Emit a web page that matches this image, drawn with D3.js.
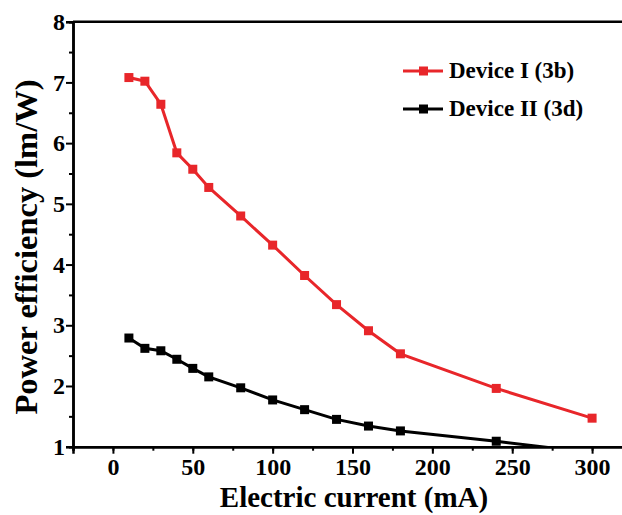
<!DOCTYPE html>
<html>
<head>
<meta charset="utf-8">
<script src="https://d3js.org/d3.v7.min.js"></script>
<style>
  body { margin: 0; background: #fff; }
  svg text { font-family: "Liberation Serif", Tinos, "Times New Roman", Times, "DejaVu Serif", "Noto Serif", serif !important; font-weight: bold; }
  svg .tick text { font-size: 24px; }
</style>
</head>
<body>
<div id="chart"></div>
<script>
// Data
// ==============================
var currentI = [10, 20, 30, 40, 50, 60, 80, 100, 120, 140, 160, 180, 240, 300];
var efficiencyI = [7.08, 7.02, 6.64, 5.84, 5.57, 5.27, 4.80, 4.32, 3.82, 3.34, 2.91, 2.53, 1.96, 1.47];

var currentII = [10, 20, 30, 40, 50, 60, 80, 100, 120, 140, 160, 180, 240, 300];
var efficiencyII = [2.79, 2.62, 2.58, 2.44, 2.29, 2.15, 1.97, 1.77, 1.61, 1.45, 1.34, 1.26, 1.09, 0.90];

var seriesNames = ["Device I (3b)", "Device II (3d)"];
var seriesColors = ["#e8262a", "#000000"];

var xTicks = [0, 50, 100, 150, 200, 250, 300];
var yTicks = [1, 2, 3, 4, 5, 6, 7, 8];

var svgWidth = 622;
var svgHeight = 515;

var margin = { top: 21.7, left: 73, bottom: 68.3 };
var height = svgHeight - margin.top - margin.bottom;
var width = 567;   // plot runs past the right edge of the picture

var svg = d3.select("#chart")
    .append("svg")
    .attr("width", svgWidth)
    .attr("height", svgHeight);

var chartGroup = svg.append("g")
    .attr("transform", `translate(${margin.left}, ${margin.top})`);

// Scales
// ==============================
var xScale = d3.scaleLinear()
    .domain([-25, 330])
    .range([0, width]);

var yScale = d3.scaleLinear()
    .domain([1, 8])
    .range([height, 0]);

// Clip for the lines
chartGroup.append("clipPath")
    .attr("id", "plotClip")
    .append("rect")
    .attr("width", width)
    .attr("height", height);

// Axes
// ==============================
var bottomMinor = d3.axisBottom(xScale)
    .tickValues(d3.range(-25, 330, 25))
    .tickSize(4)
    .tickFormat("");
var bottomAxis = d3.axisBottom(xScale)
    .tickValues(xTicks)
    .tickSize(7)
    .tickPadding(4)
    .tickFormat(d3.format("d"));

var leftMinor = d3.axisLeft(yScale)
    .tickValues(d3.range(1.5, 8, 1))
    .tickSize(4)
    .tickFormat("");
var leftAxis = d3.axisLeft(yScale)
    .tickValues(yTicks)
    .tickSize(7)
    .tickPadding(1)
    .tickFormat(d3.format("d"));

chartGroup.append("g").attr("transform", `translate(0, ${height})`).call(bottomMinor);
chartGroup.append("g").attr("transform", `translate(0, ${height})`).call(bottomAxis);
chartGroup.append("g").call(leftMinor);
chartGroup.append("g").call(leftAxis);

// top frame line
chartGroup.append("line")
    .attr("x1", 0).attr("x2", width)
    .attr("y1", 0).attr("y2", 0)
    .attr("stroke", "#000")
    .attr("stroke-width", 2.5);

chartGroup.selectAll(".domain")
    .attr("stroke-width", 2.5);
chartGroup.selectAll(".tick line")
    .attr("stroke-width", 2);

// Series
// ==============================
var series = [
    currentI.map((c, i) => ({ x: c, y: efficiencyI[i] })),
    currentII.map((c, i) => ({ x: c, y: efficiencyII[i] }))
];

var line = d3.line()
    .x(d => xScale(d.x))
    .y(d => yScale(d.y));

series.forEach(function(data, k) {
    var g = chartGroup.append("g").attr("clip-path", "url(#plotClip)");
    g.append("path")
        .datum(data)
        .attr("fill", "none")
        .attr("stroke", seriesColors[k])
        .attr("stroke-width", 3)
        .attr("d", line);
    g.selectAll("rect")
        .data(data)
        .enter()
        .append("rect")
        .attr("x", d => xScale(d.x) - 4.5)
        .attr("y", d => yScale(d.y) - 4.5)
        .attr("width", 9)
        .attr("height", 9)
        .attr("fill", seriesColors[k]);
});

// Legend
// ==============================
var legend = svg.append("g")
    .attr("transform", "translate(403, 71)");

seriesNames.forEach(function(name, k) {
    var row = legend.append("g").attr("transform", `translate(0, ${k * 38})`);
    row.append("line")
        .attr("x1", 0).attr("x2", 40)
        .attr("stroke", seriesColors[k])
        .attr("stroke-width", 3);
    row.append("rect")
        .attr("x", 16).attr("y", -4.5)
        .attr("width", 9).attr("height", 9)
        .attr("fill", seriesColors[k]);
    row.append("text")
        .attr("x", 46)
        .attr("y", 7)
        .attr("font-size", 23)
        .text(name);
});

// Axis labels
// ==============================
svg.append("text")
    .attr("transform", `translate(37, 247) rotate(-90)`)
    .attr("text-anchor", "middle")
    .attr("font-size", 32.5)
    .text("Power efficiency (lm/W)");

svg.append("text")
    .attr("x", 354)
    .attr("y", 507)
    .attr("text-anchor", "middle")
    .attr("font-size", 29)
    .text("Electric current (mA)");
</script>
</body>
</html>
